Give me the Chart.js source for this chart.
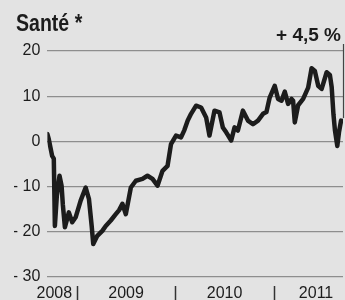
<!DOCTYPE html>
<html><head><meta charset="utf-8">
<script src="https://cdn.jsdelivr.net/npm/chart.js@4"></script>
<style>
html,body{margin:0;padding:0;background:#e3e3e3;}
#wrap{width:345px;height:300px;position:relative;}
</style>
</head><body>
<div id="wrap"><canvas id="c" width="345" height="300"></canvas></div>
<script>
const chartTitle = 'Santé *';
const endLabel = '+ 4,5 %';
const dates = [2008.70, 2008.714, 2008.748, 2008.765, 2008.776, 2008.796, 2008.823, 2008.844, 2008.857, 2008.878,
  2008.918, 2008.952, 2008.987, 2009.038, 2009.089, 2009.122, 2009.150, 2009.166, 2009.207, 2009.258,
  2009.293, 2009.344, 2009.395, 2009.429, 2009.462, 2009.497, 2009.548, 2009.599, 2009.666, 2009.717,
  2009.768, 2009.819, 2009.870, 2009.921, 2009.956, 2010.007, 2010.058, 2010.092, 2010.126, 2010.160,
  2010.211, 2010.262, 2010.313, 2010.347, 2010.398, 2010.449, 2010.483, 2010.517, 2010.568, 2010.602,
  2010.636, 2010.687, 2010.738, 2010.789, 2010.840, 2010.891, 2010.926, 2010.959, 2011.010, 2011.044,
  2011.079, 2011.112, 2011.146, 2011.181, 2011.197, 2011.214, 2011.248, 2011.299, 2011.350, 2011.385,
  2011.418, 2011.452, 2011.487, 2011.538, 2011.571, 2011.589, 2011.607, 2011.622, 2011.646, 2011.663,
  2011.684, 2011.704];
const values = [1.6, 0.5, -3.2, -3.8, -18.7, -12, -7.6, -9.8, -14, -19,
  -15.7, -17.9, -16.8, -13.1, -10.2, -12.7, -18.7, -22.7, -20.9, -19.8,
  -18.7, -17.5, -16.1, -15.2, -13.8, -16.1, -10.2, -8.7, -8.3, -7.6,
  -8.3, -9.8, -6.5, -5.4, -0.6, 1.3, 0.9, 2.5, 4.6, 6.1,
  7.9, 7.5, 5.3, 1.3, 6.8, 6.4, 3.1, 2.0, 0.2, 3.1,
  2.4, 6.8, 4.6, 3.8, 4.6, 6.1, 6.5, 9.7, 12.3, 9.4,
  9.0, 11.0, 8.3, 9.4, 9.0, 4.2, 8.0, 9.4, 11.9, 16.2,
  15.6, 12.3, 11.6, 15.3, 14.7, 12.0, 6.0, 2.5, -1.0, 2.0,
  4.6, 4.5];
const yTicks = [-30, -20, -10, 0, 10, 20];
const yearLabels = ['2008', '2009', '2010', '2011'];
const yearLabelAt = [2008.77, 2009.5, 2010.5, 2011.43];
const yearBreaks = [2009, 2010, 2011];

const ink = '#1c1c1c';
const overlay = {
  id: 'overlay',
  afterDatasetsDraw(chart) {
    const ctx = chart.ctx, xs = chart.scales.x, ys = chart.scales.y, ca = chart.chartArea;
    ctx.save();
    // year separators
    ctx.strokeStyle = '#333';
    ctx.lineWidth = 1.5;
    yearBreaks.forEach(v => {
      const x = Math.round(xs.getPixelForValue(v)) + 0.5;
      ctx.beginPath();
      ctx.moveTo(x, ca.bottom + 9);
      ctx.lineTo(x, ca.bottom + 23);
      ctx.stroke();
    });
    // marker line to last value
    const lx = xs.getPixelForValue(dates[dates.length - 1]) + 0.5;
    const ly = ys.getPixelForValue(values[values.length - 1]);
    ctx.strokeStyle = '#444';
    ctx.lineWidth = 1.2;
    ctx.beginPath();
    ctx.moveTo(lx, ca.top - 7);
    ctx.lineTo(lx, ly - 3);
    ctx.stroke();
    // texts
    ctx.fillStyle = ink;
    ctx.textBaseline = 'alphabetic';
    ctx.textAlign = 'left';
    ctx.save();
    ctx.translate(16, 31);
    ctx.scale(0.85, 1);
    ctx.font = 'bold 23px "Liberation Sans", Arial, sans-serif';
    ctx.fillText(chartTitle, 0, 0);
    ctx.restore();
    ctx.textAlign = 'right';
    ctx.font = 'bold 19px "Liberation Sans", Arial, sans-serif';
    ctx.fillText(endLabel, 341, 41);
    ctx.restore();
  }
};

new Chart(document.getElementById('c'), {
  type: 'line',
  data: {
    datasets: [{
      data: dates.map((d, i) => ({ x: d, y: values[i] })),
      borderColor: ink,
      borderWidth: 4.5,
      pointRadius: 0,
      tension: 0,
      borderJoinStyle: 'round',
      borderCapStyle: 'round',
      fill: false
    }]
  },
  options: {
    responsive: false,
    animation: false,
    layout: { padding: { left: 14, right: 2, top: 51, bottom: 0 } },
    plugins: { legend: { display: false }, tooltip: { enabled: false }, title: { display: false } },
    scales: {
      x: {
        type: 'linear',
        min: 2008.70,
        max: 2011.704,
        afterBuildTicks: s => { s.ticks = yearLabelAt.map(v => ({ value: v })); },
        afterFit: s => { s.height = 23; },
        grid: { display: false, drawTicks: false },
        border: { display: false },
        ticks: {
          autoSkip: false, maxRotation: 0, padding: 7,
          color: ink,
          font: { family: '"Liberation Sans", Arial, sans-serif', size: 16 },
          callback: (v, i) => yearLabels[i]
        }
      },
      y: {
        min: -30,
        max: 20,
        afterBuildTicks: s => { s.ticks = yTicks.map(v => ({ value: v })); },
        afterFit: s => { s.width = 33.4; },
        grid: { color: '#8e8e8e', lineWidth: 1.2, drawTicks: false },
        border: { display: false },
        ticks: {
          padding: 7,
          color: ink,
          font: { family: '"Liberation Sans", Arial, sans-serif', size: 16 },
          callback: v => v < 0 ? '- ' + Math.abs(v) : String(v)
        }
      }
    }
  },
  plugins: [overlay]
});
</script>
</body></html>
